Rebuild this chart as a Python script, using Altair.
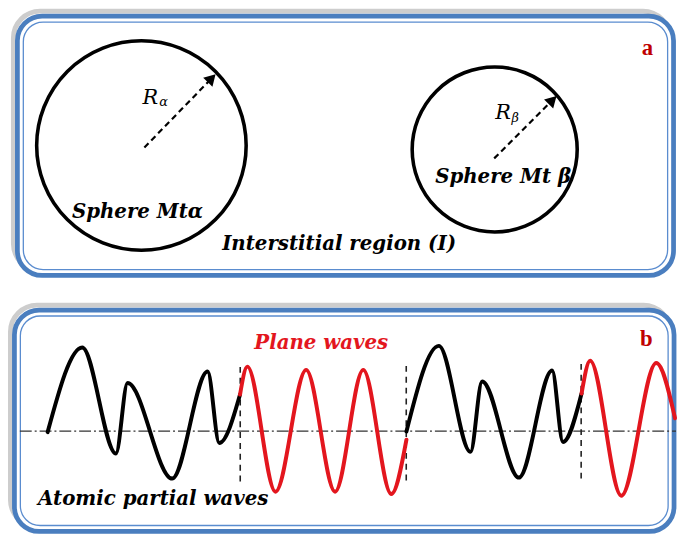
import math
import altair as alt
import pandas as pd

# ---------------- data (image pixel coordinates, y downwards) ----------------
# panel frames: x1, x2, y1, y2 of the blue band
frame_names = ["a", "b"]
frame_x1 = [17.5, 14.5]
frame_x2 = [681.5, 682.0]
frame_y1 = [13.0, 310.5]
frame_y2 = [275.5, 534.5]

# spheres (muffin-tin spheres)
sphere_names = ["Mt alpha", "Mt beta"]
sphere_cx = [143.0, 500.5]
sphere_cy = [144.0, 148.0]
sphere_r = [106.0, 83.5]

# radius arrows: start -> tip
arrow_x0 = [146.0, 500.0]
arrow_y0 = [146.0, 157.0]
arrow_x1 = [217.0, 562.0]
arrow_y1 = [73.0, 95.0]

# black "atomic partial waves" segments
black1_x = [48.1, 83.1, 117.2, 129.0, 174.1, 210.0, 221.8, 242.8]
black1_y = [434.0, 348.3, 455.7, 384.3, 481.0, 372.7, 445.0, 396.0]
black2_x = [411.2, 444.0, 476.0, 487.8, 525.0, 558.6, 569.6, 588.4]
black2_y = [433.3, 346.7, 454.0, 382.7, 480.0, 371.7, 444.0, 395.0]
# red "plane waves" segments
red1_x = [242.8, 250.2, 278.7, 309.7, 339.0, 367.5, 395.9, 411.2]
red1_y = [396.0, 367.7, 494.3, 371.0, 494.3, 371.0, 496.7, 441.7]
red2_x = [588.4, 597.1, 628.6, 664.0, 683.0]
red2_y = [395.0, 361.7, 498.3, 364.0, 420.0]

# sphere boundaries (dashed verticals)
bound_x = [243.0, 411.0, 588.0]
bound_y1 = [368.0, 367.0, 365.0]
bound_y2 = [487.0, 486.0, 484.0]

# axis of the wave (dash-dot)
axis_x = [20.0, 684.0]
axis_y = [433.0, 433.0]

# labels
label_text = ["Sphere Mtα", "Sphere Mt β", "Interstitial region (I)",
              "Atomic partial waves"]
label_x = [139.0, 509.0, 343.0, 155.0]
label_y = [217.0, 182.0, 250.0, 508.0]

red_text = ["Plane waves"]
red_x = [325.0]
red_y = [350.0]

panel_letters = ["a", "b"]
panel_letter_x = [655.0, 654.0]
panel_letter_y = [52.0, 347.0]

r_text = ["R", "R"]
r_x = [152.0, 509.0]
r_y = [102.0, 117.0]
sub_text = ["α", "β"]
sub_x = [161.0, 517.5]
sub_y = [104.0, 120.0]

# ---------------- chart ----------------
W, H = 678, 534
xs = alt.Scale(domain=[8, 8 + W], nice=False, zero=False)
ys = alt.Scale(domain=[8, 8 + H], nice=False, zero=False, reverse=True)
BLUE = "#4a7ebf"
RED = "#e3161e"
FONT = "DejaVu Serif"


def X(f):
    return alt.X(f, type="quantitative", scale=xs, axis=None)


def Y(f):
    return alt.Y(f, type="quantitative", scale=ys, axis=None)


frames = pd.DataFrame({"name": frame_names, "x1": frame_x1, "x2": frame_x2,
                       "y1": frame_y1, "y2": frame_y2})
frames["sx1"] = frames.x1 - 4
frames["sx2"] = frames.x2 - 4
frames["sy1"] = frames.y1 - 5
frames["sy2"] = frames.y2 - 5
frames["ix1"] = frames.x1 + 6
frames["ix2"] = frames.x2 - 6
frames["iy1"] = frames.y1 + 6
frames["iy2"] = frames.y2 - 6

shadow = alt.Chart(frames).mark_rect(
    cornerRadius=27, stroke="#cdcdcd", strokeWidth=5, fillOpacity=0
).encode(x=X("sx1"), x2="sx2", y=Y("sy1"), y2="sy2")
band = alt.Chart(frames).mark_rect(
    cornerRadius=25, fill="white", stroke=BLUE, strokeWidth=4.8
).encode(x=X("x1"), x2="x2", y=Y("y1"), y2="y2")
inner = alt.Chart(frames).mark_rect(
    cornerRadius=20, fill="white", stroke="#5a8ccf", strokeWidth=1.3
).encode(x=X("ix1"), x2="ix2", y=Y("iy1"), y2="iy2")

spheres = pd.DataFrame({"name": sphere_names, "cx": sphere_cx,
                        "cy": sphere_cy, "r": sphere_r})
# a Vega circle symbol of size s has diameter sqrt(s)
circles = alt.Chart(spheres).transform_calculate(
    area="4 * datum.r * datum.r"
).mark_point(shape="circle", filled=False, color="black", strokeWidth=3.6,
             opacity=1).encode(
    x=X("cx"), y=Y("cy"), size=alt.Size("area:Q", scale=None, legend=None))

# arrows
rows_shaft, rows_head = [], []
for i in range(len(arrow_x0)):
    dx = arrow_x1[i] - arrow_x0[i]
    dy = arrow_y1[i] - arrow_y0[i]
    L = math.hypot(dx, dy)
    ux, uy = dx / L, dy / L
    hx, hy = arrow_x1[i] - 6 * ux, arrow_y1[i] - 6 * uy
    rows_shaft += [{"id": i, "o": 0, "x": arrow_x0[i], "y": arrow_y0[i]},
                   {"id": i, "o": 1, "x": hx, "y": hy}]
    rows_head.append({"x": hx, "y": hy,
                      "ang": math.degrees(math.atan2(dx, -dy))})
shafts = alt.Chart(pd.DataFrame(rows_shaft)).mark_line(
    color="black", strokeWidth=2.2, strokeDash=[6, 4]
).encode(x=X("x"), y=Y("y"), detail="id:N", order="o:Q")
heads = alt.Chart(pd.DataFrame(rows_head)).mark_point(
    shape="triangle", filled=True, color="black", size=170, opacity=1
).encode(x=X("x"), y=Y("y"), angle=alt.Angle("ang:Q", scale=None))

# waves
wave_rows = []
for seg, (xx, yy, kind) in enumerate([(black1_x, black1_y, "atomic"),
                                       (red1_x, red1_y, "plane"),
                                       (black2_x, black2_y, "atomic"),
                                       (red2_x, red2_y, "plane")]):
    for k, (a, b) in enumerate(zip(xx, yy)):
        wave_rows.append({"seg": seg, "k": k, "x": a, "y": b, "kind": kind})
waves = alt.Chart(pd.DataFrame(wave_rows)).mark_line(
    strokeWidth=4, interpolate="monotone", strokeCap="round"
).encode(
    x=X("x"), y=Y("y"), detail="seg:N", order="k:Q",
    color=alt.Color("kind:N", scale=alt.Scale(domain=["atomic", "plane"],
                                              range=["black", RED]),
                    legend=None))

axis_df = pd.DataFrame({"x": axis_x, "y": axis_y})
axis_line = alt.Chart(axis_df).mark_line(
    color="#333333", strokeWidth=1.2, strokeDash=[12, 3, 2, 3]
).encode(x=X("x"), y=Y("y"))

bounds = pd.DataFrame({"x": bound_x, "y1": bound_y1, "y2": bound_y2})
bound_lines = alt.Chart(bounds).mark_rule(
    color="#222222", strokeWidth=1.6, strokeDash=[6, 5]
).encode(x=X("x"), y=Y("y1"), y2="y2")

labels = alt.Chart(pd.DataFrame({"t": label_text, "x": label_x, "y": label_y})
                   ).mark_text(font=FONT, fontSize=20, fontStyle="italic",
                               fontWeight="bold", color="black",
                               baseline="alphabetic", align="center"
                               ).encode(x=X("x"), y=Y("y"), text="t:N")
red_labels = alt.Chart(pd.DataFrame({"t": red_text, "x": red_x, "y": red_y})
                       ).mark_text(font=FONT, fontSize=20, fontStyle="italic",
                                   fontWeight="bold", color=RED,
                                   baseline="alphabetic", align="center"
                                   ).encode(x=X("x"), y=Y("y"), text="t:N")
letters = alt.Chart(pd.DataFrame({"t": panel_letters, "x": panel_letter_x,
                                  "y": panel_letter_y})
                    ).mark_text(font="Liberation Serif", fontSize=23,
                                fontWeight="bold", color="#c00000",
                                baseline="alphabetic", align="center"
                                ).encode(x=X("x"), y=Y("y"), text="t:N")
r_labels = alt.Chart(pd.DataFrame({"t": r_text, "x": r_x, "y": r_y})
                     ).mark_text(font=FONT, fontSize=21, fontStyle="italic",
                                 color="black", baseline="alphabetic",
                                 align="center"
                                 ).encode(x=X("x"), y=Y("y"), text="t:N")
subs = alt.Chart(pd.DataFrame({"t": sub_text, "x": sub_x, "y": sub_y})
                 ).mark_text(font=FONT, fontSize=13, fontStyle="italic",
                             color="black", baseline="alphabetic",
                             align="left"
                             ).encode(x=X("x"), y=Y("y"), text="t:N")

chart = alt.layer(
    shadow, band, inner, circles, shafts, heads, axis_line, bound_lines,
    waves, labels, red_labels, letters, r_labels, subs
).properties(
    width=W, height=H, padding=0, autosize=alt.AutoSizeParams(type="none")
).configure_view(stroke=None)

chart.save("out.html", embed_options={"renderer": "svg", "actions": False})
